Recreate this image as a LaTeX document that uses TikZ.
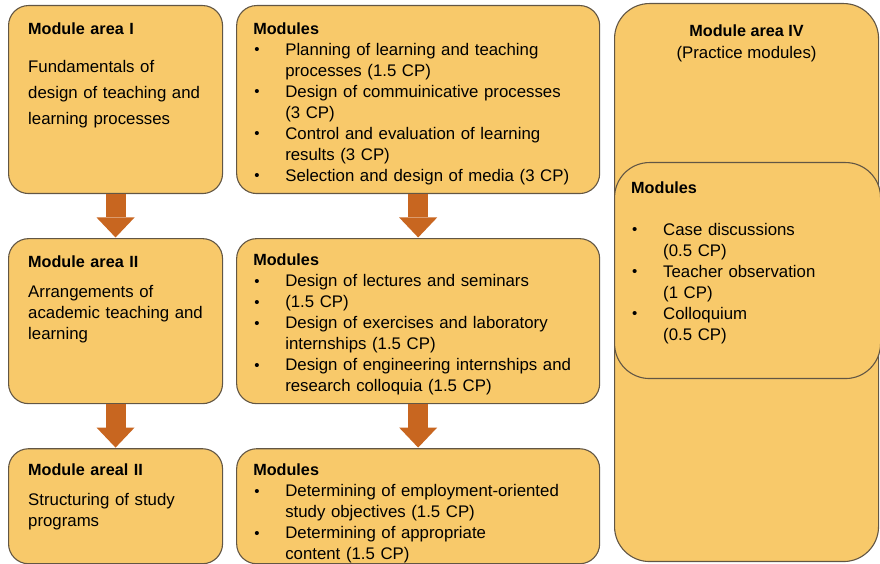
\documentclass[tikz,border=0pt]{standalone}
\usepackage{fontspec}
\setmainfont{Liberation Sans}
\usetikzlibrary{positioning,arrows.meta}

\definecolor{boxfill}{RGB}{248,201,106}
\definecolor{boxline}{RGB}{98,86,68}
\definecolor{arrowfill}{RGB}{200,102,32}

% bullet line with hanging indent, title in bold
\newcommand\bitem[1]{\par\noindent\hangindent=32pt\hangafter=1\hspace*{1pt}\makebox[31pt][l]{\raisebox{0.5pt}{\fontsize{15}{15}\selectfont\textbullet}}#1}
\newcommand\ttl[1]{{\fontsize{16.2}{21}\selectfont\bfseries #1}}

\begin{document}
\begin{tikzpicture}[x=1pt, y=1pt,
  box/.style={rectangle, draw=boxline, fill=boxfill, line width=1.1pt, rounded corners=20pt, minimum width=214pt, inner sep=0pt},
  modbox/.style={box, minimum width=363pt},
  txt/.style={inner sep=0pt, text width=#1, font=\fontsize{16.8}{21}\selectfont},
  txt/.default=340pt,
  blockarrow/.style={arrowfill, line width=20pt, shorten >=0.6pt, -{Triangle[width=38pt, length=20pt, line width=0pt]}}
]
\useasboundingbox (0,0) rectangle (880,564);

% Left column (module areas)
\node[box, minimum height=188pt, anchor=north west] (a1) at (8,559) {};
\node[box, minimum height=165pt, below=44pt of a1] (a2) {};
\node[box, minimum height=115pt, below=44pt of a2] (a3) {};

% Middle column (modules)
\node[modbox, minimum height=188pt, right=13pt of a1] (b1) {};
\node[modbox, minimum height=165pt, below=44pt of b1] (b2) {};
\node[modbox, minimum height=115pt, below=44pt of b2] (b3) {};

% Right column (practice)
\node[box, rounded corners=35pt, minimum width=264pt, minimum height=558pt, anchor=north west] (c) at (614,561) {};
\node[box, rounded corners=35pt, minimum width=266pt, minimum height=216pt, below right=159pt and 0pt of c.north west] (cmod) {};

% Texts
\node[txt=205pt, below right=17.5pt and 20pt of a1.north west] (a1txt)
  {\ttl{Module area I}\par\vspace{12pt}\fontsize{16.8}{26}\selectfont
   Fundamentals of\newline design of teaching and\newline learning processes\par};
\node[txt=205pt, below right=17.5pt and 20pt of a2.north west] (a2txt)
  {\ttl{Module area II}\par\vspace{9pt}
   Arrangements of\newline academic teaching and\newline learning\par};
\node[txt=205pt, below right=15.5pt and 20pt of a3.north west] (a3txt)
  {\ttl{Module areal II}\par\vspace{9pt}
   Structuring of study\newline programs\par};

\node[txt, below right=17.5pt and 17pt of b1.north west] (b1txt)
  {\ttl{Modules}
   \bitem{Planning of learning and teaching\newline processes (1.5 CP)}
   \bitem{Design of commuinicative processes\newline (3 CP)}
   \bitem{Control and evaluation of learning\newline results (3 CP)}
   \bitem{Selection and design of media (3 CP)}\par};
\node[txt, below right=15.5pt and 17pt of b2.north west] (b2txt)
  {\ttl{Modules}
   \bitem{Design of lectures and seminars}
   \bitem{(1.5 CP)}
   \bitem{Design of exercises and laboratory\newline internships (1.5 CP)}
   \bitem{Design of engineering internships and\newline research colloquia (1.5 CP)}\par};
\node[txt, below right=15.5pt and 17pt of b3.north west] (b3txt)
  {\ttl{Modules}
   \bitem{Determining of employment-oriented\newline study objectives (1.5 CP)}
   \bitem{Determining of appropriate\newline content (1.5 CP)}\par};

\node[inner sep=0pt, align=center, font=\fontsize{16.8}{22}\selectfont, below=21.5pt of c.north] (ctitle)
  {\ttl{Module area IV}\\(Practice modules)};
\node[txt=240pt, below right=19.5pt and 17pt of cmod.north west] (cmodtxt)
  {\ttl{Modules}\par\vspace{21pt}
   \bitem{Case discussions\newline (0.5 CP)}
   \bitem{Teacher observation\newline (1 CP)}
   \bitem{Colloquium\newline (0.5 CP)}\par};

% Arrows
\draw[blockarrow] (a1) -- (a2);
\draw[blockarrow] (a2) -- (a3);
\draw[blockarrow] (b1) -- (b2);
\draw[blockarrow] (b2) -- (b3);

\end{tikzpicture}
\end{document}
